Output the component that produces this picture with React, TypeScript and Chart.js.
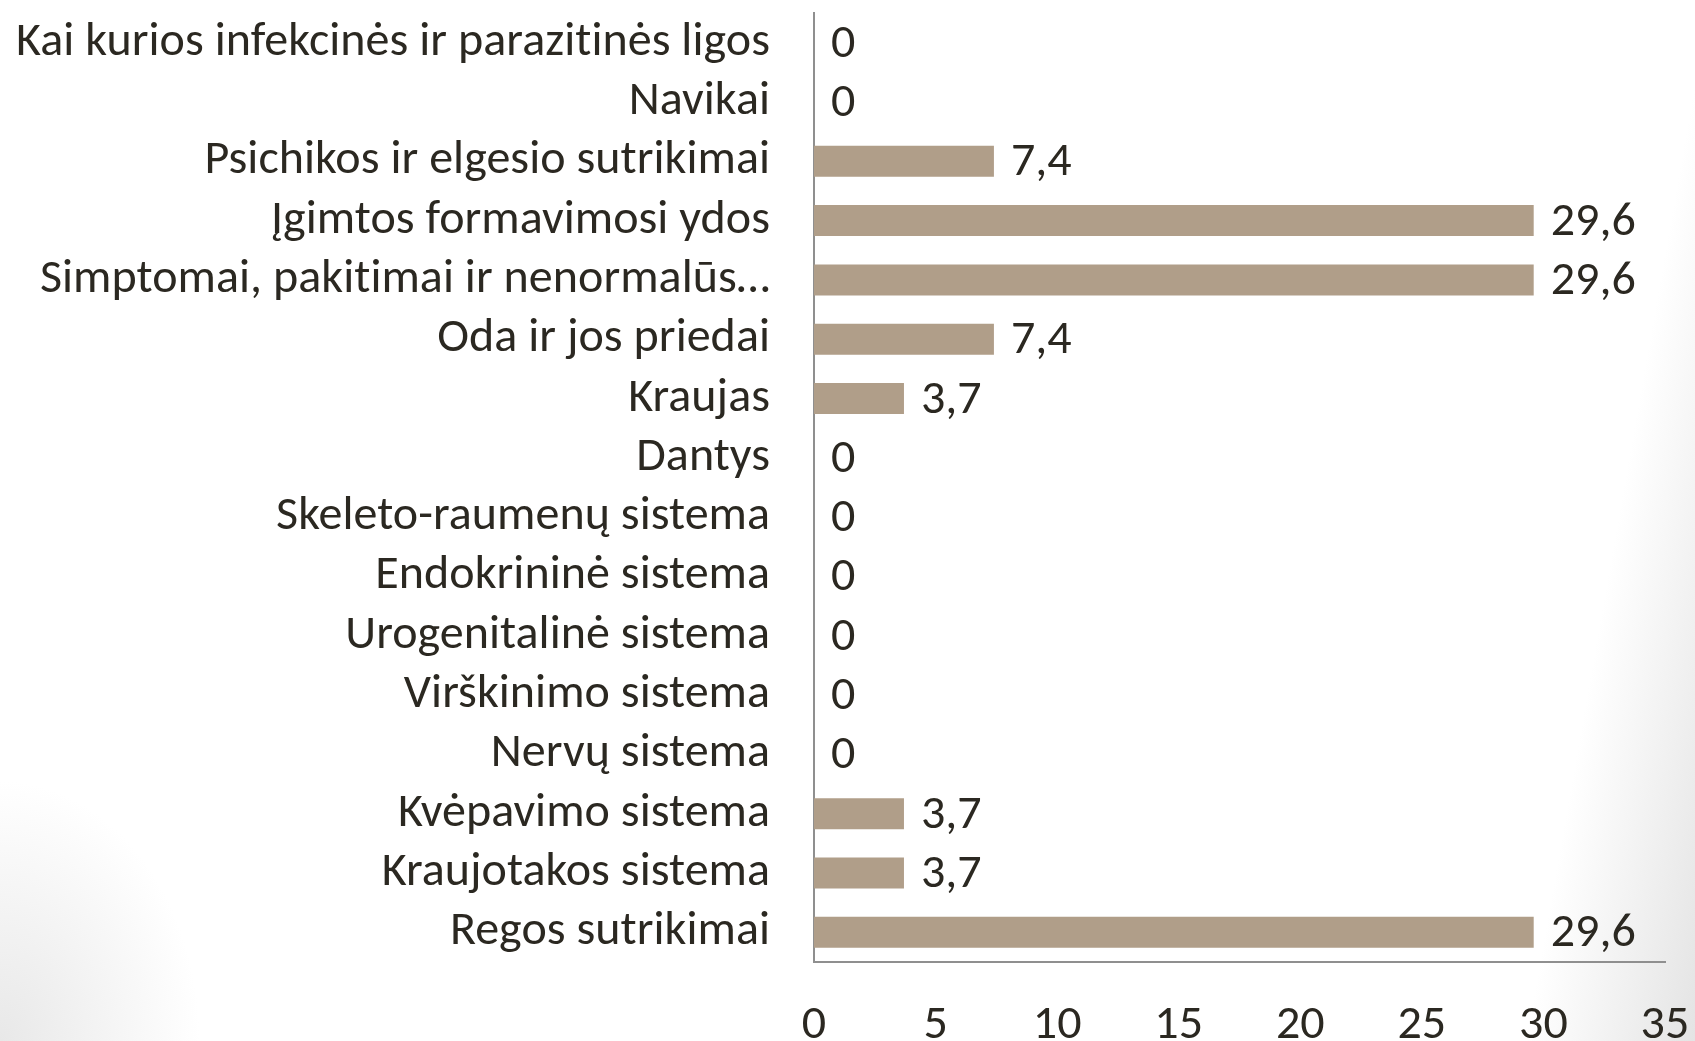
import React, { useEffect, useRef } from "react";
import { Chart, registerables } from "chart.js";

Chart.register(...registerables);

const categories = [
  "Kai kurios infekcinės ir parazitinės ligos",
  "Navikai",
  "Psichikos ir elgesio sutrikimai",
  "Įgimtos formavimosi ydos",
  "Simptomai, pakitimai ir nenormalūs…",
  "Oda ir jos priedai",
  "Kraujas",
  "Dantys",
  "Skeleto-raumenų sistema",
  "Endokrininė sistema",
  "Urogenitalinė sistema",
  "Virškinimo sistema",
  "Nervų sistema",
  "Kvėpavimo sistema",
  "Kraujotakos sistema",
  "Regos sutrikimai",
];

const values = [0, 0, 7.4, 29.6, 29.6, 7.4, 3.7, 0, 0, 0, 0, 0, 0, 3.7, 3.7, 29.6];

const xMin = 0;
const xMax = 35;
const xStep = 5;

const FONT = "Carlito, Calibri, 'Liberation Sans Narrow', sans-serif";
const TEXT = "#2b2821";
const BAR = "#b09e89";
const AXIS = "#8f8f8f";

const noLigatures = {
  id: "noLigatures",
  beforeDraw(chart: any) {
    try {
      (chart.ctx as any).letterSpacing = "0.05px";
    } catch (e) {}
  },
};

const valueLabels = {
  id: "valueLabels",
  afterDatasetsDraw(chart: any) {
    const ctx = chart.ctx;
    const meta = chart.getDatasetMeta(0);
    ctx.save();
    ctx.font = `48px ${FONT}`;
    ctx.fillStyle = TEXT;
    ctx.textAlign = "left";
    ctx.textBaseline = "middle";
    meta.data.forEach((bar: any, i: number) => {
      const v = values[i];
      const txt = String(v).replace(".", ",");
      ctx.fillText(txt, bar.x + 17, bar.y + 2);
    });
    ctx.restore();
  },
};

export default function App() {
  const ref = useRef<HTMLCanvasElement>(null);
  useEffect(() => {
    const chart = new Chart(ref.current!, {
      type: "bar",
      data: {
        labels: categories,
        datasets: [
          {
            data: values,
            backgroundColor: BAR,
            borderWidth: 0,
            categoryPercentage: 1,
            barPercentage: 0.523,
          },
        ],
      },
      options: {
        indexAxis: "y",
        animation: false,
        responsive: false,
        maintainAspectRatio: false,
        layout: { padding: { top: 13, right: 30, left: 0, bottom: 0 } },
        plugins: {
          legend: { display: false },
          tooltip: { enabled: false },
        },
        scales: {
          x: {
            min: xMin,
            max: xMax,
            ticks: {
              stepSize: xStep,
              color: TEXT,
              font: { family: FONT, size: 48, lineHeight: 1 },
              padding: 40,
              maxRotation: 0,
            },
            grid: { display: false, drawTicks: false },
            border: { display: true, color: AXIS, width: 2 },
            afterFit: (scale: any) => {
              scale.height = 79;
              scale.paddingLeft = 0;
              scale.paddingRight = 0;
              scale.paddingTop = 0;
              scale.paddingBottom = 0;
            },
          },
          y: {
            ticks: {
              color: TEXT,
              font: { family: FONT, size: 48, lineHeight: 1 },
              padding: 44,
              autoSkip: false,
            },
            grid: { display: false, drawTicks: false },
            border: { display: true, color: AXIS, width: 2 },
            afterFit: (scale: any) => {
              scale.width = 814;
              scale.paddingLeft = 0;
              scale.paddingRight = 0;
              scale.paddingTop = 0;
              scale.paddingBottom = 0;
            },
          },
        },
      },
      plugins: [noLigatures, valueLabels],
    });
    return () => chart.destroy();
  }, []);
  return (
    <div
      style={{
        position: "fixed",
        left: 0,
        top: 0,
        width: 1695,
        height: 1041,
        overflow: "hidden",
        background:
          "linear-gradient(100deg, rgba(255,255,255,0) 91%, rgba(228,228,228,1) 100%), radial-gradient(ellipse 200px 260px at 0% 100%, rgba(232,232,232,1) 0%, rgba(255,255,255,0) 100%), #ffffff",
      }}
    >
      <canvas ref={ref} width={1695} height={1041} style={{ display: "block" }} />
    </div>
  );
}
